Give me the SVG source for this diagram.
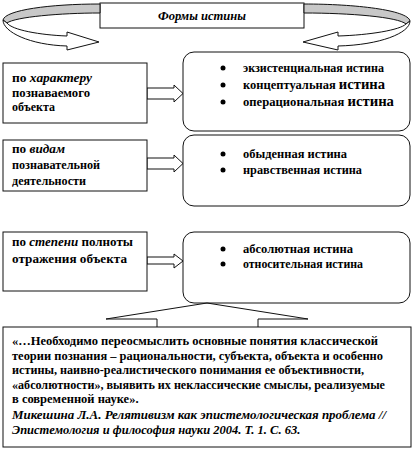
<svg xmlns="http://www.w3.org/2000/svg" width="414" height="450" viewBox="0 0 414 450">
<style>
.bx{fill:#fff;stroke:#111;stroke-width:1}
.ln{fill:none;stroke:#111;stroke-width:1}
.ar{fill:#fff;stroke:#111;stroke-width:1;stroke-linejoin:miter}
.gr{fill:#c8c8c8;stroke:#111;stroke-width:1}
text{font-family:"Liberation Serif","DejaVu Serif","Times New Roman",serif;font-weight:bold;font-size:12px;fill:#000}
.it{font-style:italic}
.big{font-size:14px}
.q{font-size:12.5px}
</style>
<rect width="414" height="450" fill="#fff"/>
<g id="title">
<rect class="bx" x="100" y="3" width="204" height="25"/>
<text class="it" x="158" y="20" textLength="88" lengthAdjust="spacingAndGlyphs">Формы истины</text>
</g>
<g id="connectors">
<path class="gr" d="M100,4 C50,4 5,10 3,20 L7,23 C15,17 60,13 100,13 Z"/>
<path class="ar" d="M3,20 C3,32 30,45 67,46 L67,50 L99,42 L67,32 L67,36 C40,35 12,30 7,23 Z"/>
<path class="gr" d="M304,4 C355,4 408,10 410,21 L406,24 C398,17 350,13 304,13 Z"/>
<path class="ar" d="M410,21 C410,33 380,45 338,46 L338,50 L303,42 L338,32 L338,36 C370,35 400,30 406,24 Z"/>
<path class="ar" d="M147,88 L174,88 L174,85 L183,93.5 L174,102 L174,99 L147,99 Z"/>
<path class="ar" d="M147,158 L174,158 L174,155 L183,163.5 L174,172 L174,169 L147,169 Z"/>
<path class="ar" d="M147,257 L174,257 L174,254 L183,261 L174,268 L174,264 L147,264 Z"/>
</g>
<g id="left1">
<rect class="bx" x="3" y="63" width="144" height="60"/>
<text x="12" y="82" textLength="80" lengthAdjust="spacingAndGlyphs">по <tspan class="it">характеру</tspan></text>
<text x="12" y="97" textLength="78" lengthAdjust="spacingAndGlyphs">познаваемого</text>
<text x="12" y="111" textLength="43" lengthAdjust="spacingAndGlyphs">объекта</text>
</g>
<g id="right1">
<rect class="bx" x="183" y="52" width="227" height="79" rx="11"/>
<circle cx="223" cy="68" r="2.5"/>
<circle cx="223" cy="85" r="2.5"/>
<circle cx="223" cy="102" r="2.5"/>
<text x="243" y="72" textLength="141" lengthAdjust="spacingAndGlyphs">экзистенциальная истина</text>
<text x="243" y="89" textLength="142" lengthAdjust="spacingAndGlyphs">концептуальная <tspan class="big">истина</tspan></text>
<text x="243" y="106" textLength="151" lengthAdjust="spacingAndGlyphs">операциональная <tspan class="big">истина</tspan></text>
</g>
<g id="left2">
<rect class="bx" x="3" y="140" width="144" height="51"/>
<text x="12" y="153" textLength="53" lengthAdjust="spacingAndGlyphs">по <tspan class="it">видам</tspan></text>
<text x="12" y="169" textLength="88" lengthAdjust="spacingAndGlyphs">познавательной</text>
<text x="12" y="185" textLength="74" lengthAdjust="spacingAndGlyphs">деятельности</text>
</g>
<g id="right2">
<rect class="bx" x="183" y="135" width="227" height="71" rx="11"/>
<circle cx="223" cy="154" r="2.5"/>
<circle cx="223" cy="170" r="2.5"/>
<text x="243" y="158" textLength="104" lengthAdjust="spacingAndGlyphs">обыденная истина</text>
<text x="243" y="174" textLength="119" lengthAdjust="spacingAndGlyphs">нравственная истина</text>
</g>
<g id="left3">
<rect class="bx" x="3" y="232" width="144" height="59"/>
<text x="12" y="246" textLength="121" lengthAdjust="spacingAndGlyphs">по <tspan class="it">степени</tspan> полноты</text>
<text x="12" y="263" textLength="115" lengthAdjust="spacingAndGlyphs">отражения объекта</text>
</g>
<g id="right3">
<rect class="bx" x="183" y="232" width="227" height="71" rx="11"/>
<circle cx="223" cy="249" r="2.5"/>
<circle cx="223" cy="264" r="2.5"/>
<text x="243" y="253" textLength="110" lengthAdjust="spacingAndGlyphs">абсолютная истина</text>
<text x="243" y="268" textLength="120" lengthAdjust="spacingAndGlyphs">относительная истина</text>
</g>
<g id="quote">
<rect class="bx" x="3" y="327" width="408" height="120"/>
<path class="ln" d="M106,319 L207,303 L308,319 M106,319 H157 V327 M308,319 H258 V327"/>
<text class="q" x="12" y="345" textLength="366" lengthAdjust="spacingAndGlyphs">«…Необходимо переосмыслить основные понятия классической</text>
<text class="q" x="12" y="360" textLength="371" lengthAdjust="spacingAndGlyphs">теории познания – рациональности, субъекта, объекта и особенно</text>
<text class="q" x="12" y="374" textLength="352" lengthAdjust="spacingAndGlyphs">истины, наивно-реалистического понимания ее объективности,</text>
<text class="q" x="12" y="389" textLength="373" lengthAdjust="spacingAndGlyphs">«абсолютности», выявить их неклассические смыслы, реализуемые</text>
<text class="q" x="12" y="403">в современной науке».</text>
<text class="q it" x="12" y="419" textLength="374" lengthAdjust="spacingAndGlyphs">Микешина Л.А. Релятивизм как эпистемологическая проблема //</text>
<text class="q it" x="12" y="434">Эпистемология и философия науки 2004. Т. 1. С. 63.</text>
</g>
</svg>
